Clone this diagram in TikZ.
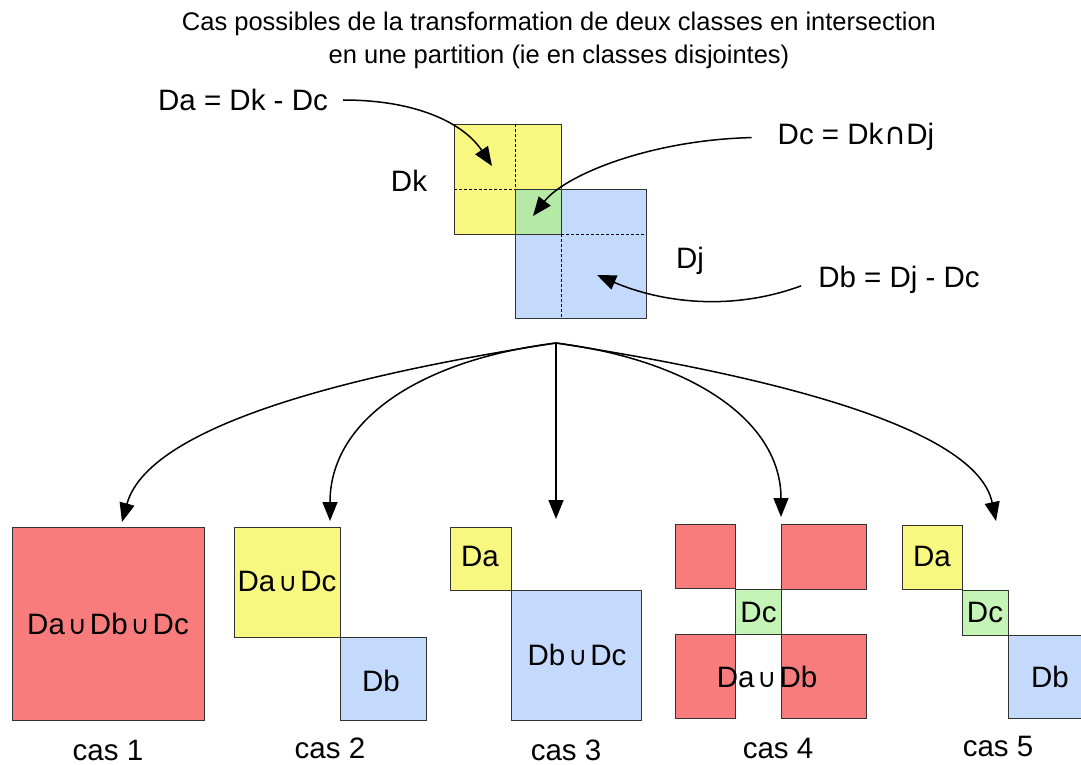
\documentclass[tikz,border=0pt]{standalone}
\usepackage{fontspec}
\setmainfont{Liberation Sans}
\newfontfamily\symfont{DejaVu Sans}
\usetikzlibrary{arrows.meta}
\definecolor{yel}{HTML}{F8F880}
\definecolor{grn}{HTML}{B4EAA6}
\definecolor{grnb}{HTML}{C4F4B6}
\definecolor{blu}{HTML}{C4DAFC}
\definecolor{rd}{HTML}{F87C7C}
\definecolor{bord}{HTML}{333333}
\newcommand{\myU}{{\symfont\fontsize{26}{26}\selectfont\kern3pt∪\kern3pt}}
\newcommand{\myN}{{\symfont\fontsize{30}{30}\selectfont\kern1pt∩\kern0pt}}
\tikzset{
  box/.style={draw=bord, line width=1pt, inner sep=0pt, anchor=north west},
  lbl/.style={font=\fontsize{29.5}{31}\selectfont, inner sep=1pt},
  ttl/.style={font=\fontsize{25.5}{33}\selectfont, align=center, inner sep=0pt},
  arr/.style={line width=1.5pt, -{Triangle[length=19pt,width=15pt]}},
  dsh/.style={dashed, line width=0.8pt, dash pattern=on 3pt off 2pt}
}
\newcommand{\boxat}[6]{% name, fill, x1, y1, x2, y2
  \node[box, fill=#2, minimum width={(#5-#3)*1pt}, minimum height={(#6-#4)*1pt}] (#1) at (#3,#4) {};}
\begin{document}
\begin{tikzpicture}[x=1pt,y=-1pt]
\useasboundingbox[fill=white] (0,0) rectangle (1081,765);
% title
\node[ttl] (title) at (559,40) {Cas possibles de la transformation de deux classes en intersection\\en une partition (ie en classes disjointes)};
% top squares
\boxat{dk}{yel}{454}{124}{561}{234}
\boxat{dj}{blu}{515}{189}{646}{318}
\boxat{dc}{grn}{515}{189}{561}{234}
\draw[dsh] (515,124) -- (515,189);
\draw[dsh] (454,189) -- (515,189);
\draw[dsh] (561,234) -- (646,234);
\draw[dsh] (561,234) -- (561,318);
\node[lbl] (dkl) at (409,181) {Dk};
\node[lbl] (djl) at (690,261) {Dj};
\node[lbl] (dal) at (243,100) {Da = Dk - Dc};
\node[lbl] (dcl) at (856,137) {Dc = Dk\myN Dj};
\node[lbl] (dbl) at (899,280) {Db = Dj - Dc};
\coordinate (ta) at (492,166);
\coordinate (tc) at (533,216);
\coordinate (tb) at (597,275);
\draw[arr, shorten <=14pt] (dal.east) .. controls (420,100) and (465,125) .. (ta);
\draw[arr, shorten <=25pt] (dcl.west) .. controls (650,140) and (565,175) .. (tc);
\draw[arr, shorten <=17pt] (dbl.west) .. controls (730,312) and (660,302) .. (tb);
% source of bottom arrows
\coordinate (src) at (556,343);
\coordinate (t1) at (122,522);
\coordinate (t2) at (330,521);
\coordinate (t3) at (556,519);
\coordinate (t4) at (781,517);
\coordinate (t5) at (996,521);
\draw[arr] (src) .. controls (380,370) and (150,420) .. (t1);
\draw[arr] (src) .. controls (420,360) and (330,420) .. (t2);
\draw[arr] (src) -- (t3);
\draw[arr] (src) .. controls (690,360) and (781,420) .. (t4);
\draw[arr] (src) .. controls (730,370) and (975,420) .. (t5);
% cas 1
\boxat{c1}{rd}{12}{527}{204}{720}
\node[lbl] (c1l) at (108,624) {Da\myU Db\myU Dc};
\node[lbl] (cas1) at (108,750) {cas 1};
% cas 2
\boxat{c2a}{yel}{234}{527}{340}{637}
\boxat{c2b}{blu}{340}{637}{426}{720}
\node[lbl] (c2al) at (287,581) {Da\myU Dc};
\node[lbl] (c2bl) at (381,681) {Db};
\node[lbl] (cas2) at (330,748) {cas 2};
% cas 3
\boxat{c3a}{yel}{450}{527}{511}{590}
\boxat{c3b}{blu}{511}{590}{641}{720}
\node[lbl] (c3al) at (480,556) {Da};
\node[lbl] (c3bl) at (577,655) {Db\myU Dc};
\node[lbl] (cas3) at (566,750) {cas 3};
% cas 4
\boxat{c4a}{rd}{675}{524}{735}{588}
\boxat{c4b}{rd}{781}{524}{866}{589}
\boxat{c4c}{grnb}{735}{589}{781}{634}
\boxat{c4d}{rd}{675}{634}{735}{718}
\boxat{c4e}{rd}{781}{634}{866}{718}
\node[lbl] (c4cl) at (c4c.center) {Dc};
\node[lbl] (c4l) at (767,677) {Da\myU Db};
\node[lbl] (cas4) at (778,748) {cas 4};
% cas 5
\boxat{c5a}{yel}{902}{525}{962}{589}
\boxat{c5b}{grnb}{962}{590}{1008}{635}
\boxat{c5c}{blu}{1008}{635}{1090}{718}
\node[lbl] (c5al) at (932,556) {Da};
\node[lbl] (c5bl) at (985,612) {Dc};
\node[lbl] (c5cl) at (1050,677) {Db};
\node[lbl] (cas5) at (998,746) {cas 5};
\end{tikzpicture}
\end{document}
